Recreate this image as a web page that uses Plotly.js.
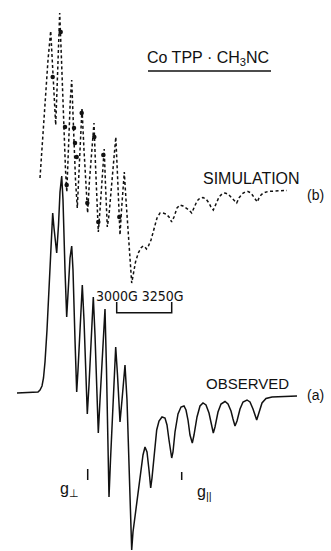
<!DOCTYPE html>
<html>
<head>
<meta charset="utf-8">
<script src="https://cdn.plot.ly/plotly-3.0.1.min.js"></script>
<style>
html,body{margin:0;padding:0;background:#fff;}
#chart{width:331px;height:551px;}
</style>
</head>
<body>
<div id="chart"></div>
<script>
// Observed EPR spectrum (a): field position (px-scale) vs derivative signal (px-scale, downward positive)
var obsX = [17,38,40,42,43.5,45,47,49,51,52.7,54,56.7,58.5,60,61.7,63,65,66.7,68.5,70,71.7,73,75,76.7,78,80.5,82.3,84,86,87.3,89,91.5,93.3,95,97,98.3,100,103,105,106.5,108,109,110.5,113.5,115.7,117.5,120,122,125,127,129,130.5,131.7,133,136.7,140,143,145,147,149,150.7,152,153.5,156.7,159,162,165,167,169,171.7,173,175,178,181,184,186,188,190,192.3,194,197,200,203,206,209,211,213.3,215,218,221,225,228,231,233,235,237,240,243,247,250,253,256.7,259,262,266,272,297];
var obsY = [393,392,390,386,378,362,330,283,238,213,228,253,225,192,176,200,270,317,285,258,246,270,340,392,370,320,285,320,380,414,385,330,297,335,400,433,400,340,309,370,450,497,460,385,347,375,422,400,365,400,460,515,550,532,503,475,455,447,452,470,488,478,462,430,421,417,418,425,440,458,452,432,414,407,406,410,420,435,443,435,417,406,403,405,413,424,433,427,412,404,401.5,404,411,419,426,421,409,402,400,402,409,420,412,403,398.5,397,396];

// Simulated spectrum (b)
var simX = [40,42.5,45,48,50.7,52.5,54.5,55.7,57,58.5,59.7,61.5,63.5,65.5,66.8,68.5,70.3,71.7,73.5,75.5,77.3,79,80.5,82,84,86,87.6,89.5,92,94,95.5,97,98.3,100,102.5,104.2,105.5,107.3,109,112,115.8,117.5,119,120,121.5,124.3,126,128.5,130.5,131.7,133,135.5,138.3,141,143,145,146.5,148,151,154,157,160,163,166,169,171.7,174,177,180,183,186,189,191.7,194,197,200,203,206,209,211,213.3,216,219,222,225,228,231,234,236.7,239,242,245,248,251,254,257.3,259,261,263.3,268,275,287];
var simY = [178,140,100,60,31,70,110,125,90,40,13,60,120,170,192,145,100,80,130,180,208,170,130,108,150,190,213,180,145,123,165,205,232,210,170,149,185,227,215,180,137,175,210,235,210,172,200,240,270,283,276,262,253,248,246,247,249,247,240,228,218,213,213,214,217,222,217,208,205,206,208,210,213,208,201,198,197.5,199,203,207,210,204,197,194,193,194,197,200,203,198,194,192,191.5,193,197,202,198,195,193,191.5,191,190.5];

// Heavy dots printed on the simulated trace
var dotX = [52.7,60.7,65,66.7,74,75,76.7,81.7,87.3,94.3,98.3,103.3,119.3];
var dotY = [77,32,127,185,128,143,157,113,203,137,222,155,217];

// Field scale bar: 3000 G to 3250 G
var scaleX = [116.7,116.7,171.7,171.7];
var scaleY = [302,312.7,312.7,302];
var scaleLabel = "3000G 3250G";

// g-value markers
var gTickX = [87.7,87.7,null,181.7,181.7];
var gTickY = [469,480,null,472,480];

// Title underline
var ulX = [148,271];
var ulY = [71,71];

var ink = '#111';
var traces = [
  {x: obsX, y: obsY, mode:'lines', line:{color:ink, width:1.5}, hoverinfo:'skip'},
  {x: simX, y: simY, mode:'lines', line:{color:ink, width:1.5, dash:'3px,2.5px'}, hoverinfo:'skip'},
  {x: dotX, y: dotY, mode:'markers', marker:{color:ink, size:4.5}, hoverinfo:'skip'},
  {x: scaleX, y: scaleY, mode:'lines', line:{color:ink, width:1.5}, hoverinfo:'skip'},
  {x: gTickX, y: gTickY, mode:'lines', line:{color:ink, width:1.5}, hoverinfo:'skip'},
  {x: ulX, y: ulY, mode:'lines', line:{color:ink, width:1.6}, hoverinfo:'skip'}
];

var fam = '"Liberation Sans", Arial, sans-serif';
var narrow = '"DejaVu Sans Condensed", "Liberation Sans Narrow", sans-serif';
function ann(x, y, t, size, f) {
  return {x:x, y:y, xref:'x', yref:'y', text:t, showarrow:false, xanchor:'left', yanchor:'middle',
          font:{family:f||fam, size:size, color:ink}};
}
var layout = {
  width:331, height:551,
  margin:{l:0, r:0, t:0, b:0},
  paper_bgcolor:'#fff', plot_bgcolor:'#fff',
  showlegend:false,
  xaxis:{range:[0,331], visible:false, fixedrange:true},
  yaxis:{range:[551,0], visible:false, fixedrange:true},
  annotations:[
    ann(145, 58, 'Co TPP · CH<sub>3</sub>NC', 16),
    ann(201, 178, 'SIMULATION', 16),
    ann(305, 195, '(b)', 14),
    ann(204, 383, 'OBSERVED', 15),
    ann(305, 395, '(a)', 14),
    ann(94, 296, scaleLabel, 14, narrow),
    ann(58, 489, 'g<sub>⊥</sub>', 16),
    ann(195, 492, 'g<sub>||</sub>', 16)
  ]
};
Plotly.newPlot('chart', traces, layout, {staticPlot:true, displayModeBar:false});
</script>
</body>
</html>
